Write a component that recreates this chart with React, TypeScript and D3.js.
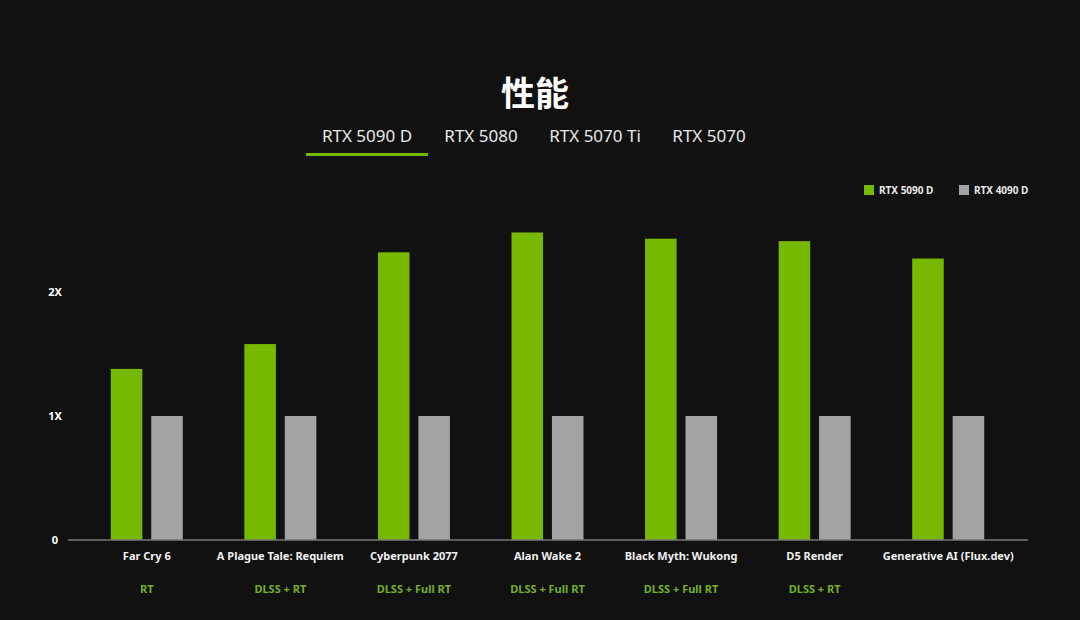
import { useEffect, useRef } from "react"
import * as d3 from "d3"

const categories = [
  "Far Cry 6",
  "A Plague Tale: Requiem",
  "Cyberpunk 2077",
  "Alan Wake 2",
  "Black Myth: Wukong",
  "D5 Render",
  "Generative AI (Flux.dev)",
]
const subLabels = ["RT", "DLSS + RT", "DLSS + Full RT", "DLSS + Full RT", "DLSS + Full RT", "DLSS + RT", ""]
const rtx5090d = [1.38, 1.58, 2.32, 2.48, 2.43, 2.41, 2.27]
const rtx4090d = [1, 1, 1, 1, 1, 1, 1]
const seriesNames = ["RTX 5090 D", "RTX 4090 D"]
const seriesColors = ["#76b900", "#a3a3a3"]
const yTicks = [0, 1, 2]
const yTickLabels = ["0", "1X", "2X"]
const tabs = ["RTX 5090 D", "RTX 5080", "RTX 5070 Ti", "RTX 5070"]

export default function App() {
  const svgRef = useRef<SVGSVGElement>(null)

  useEffect(() => {
    if (!svgRef.current) return
    const svg = d3.select(svgRef.current)
    svg.selectAll("*").remove()

    const W = 1080
    const H = 620
    const font = "'Noto Sans', 'DejaVu Sans', sans-serif"

    svg.append("rect").attr("width", W).attr("height", H).attr("fill", "#111111")

    // Title
    svg
      .append("text")
      .attr("x", 535)
      .attr("y", 106)
      .attr("text-anchor", "middle")
      .style("font-family", "'Noto Sans CJK SC', sans-serif")
      .style("font-weight", 700)
      .style("font-size", "34px")
      .attr("fill", "#ffffff")
      .text("性能")

    // Tabs
    const tabX = d3.scalePoint().domain(tabs).range([367, 709])
    svg
      .selectAll(".tab")
      .data(tabs)
      .enter()
      .append("text")
      .attr("class", "tab")
      .attr("x", (d) => tabX(d) as number)
      .attr("y", 142)
      .attr("text-anchor", "middle")
      .style("font-family", font)
      .style("font-size", "17px")
      .attr("fill", "#e8e8e8")
      .text((d) => d)

    svg
      .append("rect")
      .attr("x", 306)
      .attr("y", 153)
      .attr("width", 122)
      .attr("height", 3)
      .attr("fill", "#76b900")

    // Scales
    const x0 = d3.scaleBand().domain(categories).range([80, 1015]).padding(0)
    const x1 = d3.scaleBand().domain(seriesNames).range([-36, 36]).paddingInner(0.22)
    const y = d3.scaleLinear().domain([0, 2.6]).range([540, 540 - 2.6 * 124])

    // Y tick labels
    svg
      .selectAll(".ytick")
      .data(yTicks)
      .enter()
      .append("text")
      .attr("class", "ytick")
      .attr("x", 55)
      .attr("y", (d) => y(d) + 4)
      .attr("text-anchor", "middle")
      .style("font-family", font)
      .style("font-weight", 700)
      .style("font-size", "11px")
      .attr("fill", "#ffffff")
      .text((d, i) => yTickLabels[i])

    // Bars
    const series = [rtx5090d, rtx4090d]
    series.forEach((vals, si) => {
      svg
        .selectAll(`.bar-${si}`)
        .data(vals)
        .enter()
        .append("rect")
        .attr("class", `bar-${si}`)
        .attr("x", (d, i) => (x0(categories[i]) as number) + x0.bandwidth() / 2 + (x1(seriesNames[si]) as number))
        .attr("width", x1.bandwidth())
        .attr("y", (d) => y(d))
        .attr("height", (d) => y(0) - y(d))
        .attr("fill", seriesColors[si])
    })

    // Axis line
    svg
      .append("line")
      .attr("x1", 68)
      .attr("x2", 1028)
      .attr("y1", y(0))
      .attr("y2", y(0))
      .attr("stroke", "#777777")
      .attr("stroke-width", 1.5)

    // Category labels
    svg
      .selectAll(".cat")
      .data(categories)
      .enter()
      .append("text")
      .attr("class", "cat")
      .attr("x", (d) => (x0(d) as number) + x0.bandwidth() / 2)
      .attr("y", 560)
      .attr("text-anchor", "middle")
      .style("font-family", font)
      .style("font-weight", 700)
      .style("font-size", "11px")
      .attr("fill", "#f0f0f0")
      .text((d) => d)

    svg
      .selectAll(".sub")
      .data(subLabels)
      .enter()
      .append("text")
      .attr("class", "sub")
      .attr("x", (d, i) => (x0(categories[i]) as number) + x0.bandwidth() / 2)
      .attr("y", 593)
      .attr("text-anchor", "middle")
      .style("font-family", font)
      .style("font-weight", 700)
      .style("font-size", "11px")
      .attr("fill", "#72b02a")
      .text((d) => d)

    // Legend
    const legendX = [864, 959]
    seriesNames.forEach((name, i) => {
      svg
        .append("rect")
        .attr("x", legendX[i])
        .attr("y", 185)
        .attr("width", 10)
        .attr("height", 10)
        .attr("fill", seriesColors[i])
      svg
        .append("text")
        .attr("x", legendX[i] + 15)
        .attr("y", 194)
        .style("font-family", font)
        .style("font-weight", 700)
        .style("font-size", "10px")
        .attr("fill", "#e8e8e8")
        .text(name)
    })
  }, [])

  return (
    <div style={{ position: "fixed", left: 0, top: 0 }}>
      <svg ref={svgRef} width={1080} height={620} style={{ display: "block" }}></svg>
    </div>
  )
}
